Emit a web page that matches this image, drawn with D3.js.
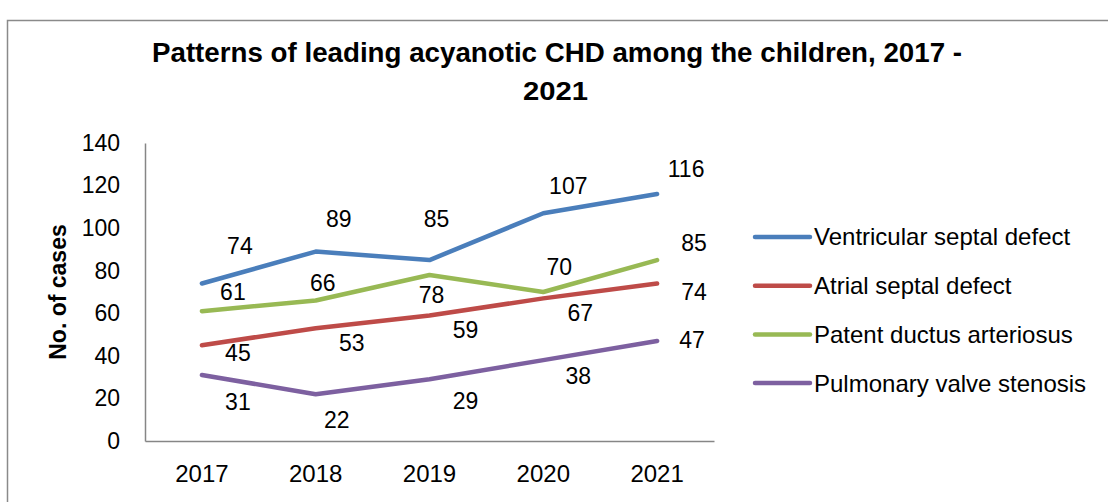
<!DOCTYPE html>
<html>
<head>
<meta charset="utf-8">
<script src="https://cdnjs.cloudflare.com/ajax/libs/d3/7.8.5/d3.min.js"></script>
<style>
  html, body { margin: 0; padding: 0; background: #fff; }
  svg { display: block; }
  text { font-family: "Liberation Sans", Arial, sans-serif; fill: #000; }
</style>
</head>
<body>
<svg id="chart" width="1108" height="502"></svg>
<script>
// Chart data
const years = ["2017", "2018", "2019", "2020", "2021"];
const seriesNames = ["Ventricular septal defect", "Atrial septal defect", "Patent ductus arteriosus", "Pulmonary valve stenosis"];
const vsd = [74, 89, 85, 107, 116];
const asd = [45, 53, 59, 67, 74];
const pda = [61, 66, 78, 70, 85];
const pvs = [31, 22, 29, 38, 47];
const yTicks = [0, 20, 40, 60, 80, 100, 120, 140];

// Styling and label placement (offset of each value label from its point)
const colors = ["#4A7EBB", "#BE4B48", "#98B954", "#7D60A0"];
const labelOffsets = [
  [[38, -38], [23, -33], [7, -41], [25, -27], [29, -25]],
  [[36, 8], [36, 15], [36, 15], [37, 15], [37, 8]],
  [[31, -19], [7, -18], [2, 20], [16, -25], [37, -17]],
  [[36, 27], [21, 26], [36, 22], [35, 16], [35, -1]]
];

const series = [vsd, asd, pda, pvs].map((vals, i) => ({ name: seriesNames[i], values: vals, color: colors[i], offs: labelOffsets[i] }));

const svg = d3.select("#chart");

// Outer chart frame
svg.append("rect")
  .attr("x", 7.5).attr("y", 20.5).attr("width", 1120).attr("height", 500)
  .attr("fill", "none").attr("stroke", "#8a8a8a").attr("stroke-width", 1.5);

// Title
svg.append("text")
  .attr("x", 557).attr("y", 62).attr("text-anchor", "middle")
  .attr("font-size", 27).attr("font-weight", "bold")
  .attr("textLength", 810).attr("lengthAdjust", "spacingAndGlyphs")
  .text("Patterns of leading acyanotic CHD among the children, 2017 -");
svg.append("text")
  .attr("x", 555.5).attr("y", 100).attr("text-anchor", "middle")
  .attr("font-size", 26).attr("font-weight", "bold")
  .attr("textLength", 65).attr("lengthAdjust", "spacingAndGlyphs")
  .text("2021");

// Scales
const plotLeft = 145, plotRight = 714, plotTop = 143, plotBottom = 441;
const x = d3.scaleBand().domain(years).range([plotLeft, plotRight]);
const y = d3.scaleLinear().domain([0, 140]).range([plotBottom, plotTop]);
const cx = d => x(d) + x.bandwidth() / 2;

// Y axis
const yAxis = svg.append("g")
  .attr("transform", `translate(${plotLeft},0)`)
  .call(d3.axisLeft(y).tickValues(yTicks).tickSize(0).tickPadding(25));
yAxis.select(".domain").attr("stroke", "#868686").attr("stroke-width", 1.5);
yAxis.selectAll("text").attr("font-size", 23).attr("font-family", "Liberation Sans, Arial, sans-serif").attr("fill", "#000");

// X axis
const xAxis = svg.append("g")
  .attr("transform", `translate(0,${plotBottom})`)
  .call(d3.axisBottom(x).tickSize(0).tickPadding(24));
xAxis.select(".domain").attr("stroke", "#868686").attr("stroke-width", 1.5);
xAxis.selectAll("text").attr("font-size", 24).attr("font-family", "Liberation Sans, Arial, sans-serif").attr("fill", "#000");

// Y axis title
svg.append("text")
  .attr("transform", "translate(66,292) rotate(-90)")
  .attr("text-anchor", "middle")
  .attr("font-size", 23).attr("font-weight", "bold")
  .text("No. of cases");

// Lines
const line = d3.line().x((d, i) => cx(years[i])).y(d => y(d));
svg.append("g").selectAll("path")
  .data(series).join("path")
  .attr("d", s => line(s.values))
  .attr("fill", "none")
  .attr("stroke", s => s.color)
  .attr("stroke-width", 4.5)
  .attr("stroke-linecap", "round")
  .attr("stroke-linejoin", "round");

// Value labels
series.forEach(s => {
  svg.append("g").selectAll("text")
    .data(s.values).join("text")
    .attr("x", (d, i) => cx(years[i]) + s.offs[i][0])
    .attr("y", (d, i) => y(d) + s.offs[i][1])
    .attr("dy", "0.35em")
    .attr("text-anchor", "middle")
    .attr("font-size", 23)
    .text(d => d);
});

// Legend
const legend = svg.append("g").attr("transform", "translate(755,237)");
const item = legend.selectAll("g").data(series).join("g")
  .attr("transform", (d, i) => `translate(0,${i * 48.7})`);
item.append("line")
  .attr("x1", 0).attr("x2", 55).attr("y1", 0).attr("y2", 0)
  .attr("stroke", d => d.color).attr("stroke-width", 4.5).attr("stroke-linecap", "round");
item.append("text")
  .attr("x", 59).attr("y", 0).attr("dy", "0.35em")
  .attr("font-size", 24)
  .text(d => d.name);
</script>
</body>
</html>
